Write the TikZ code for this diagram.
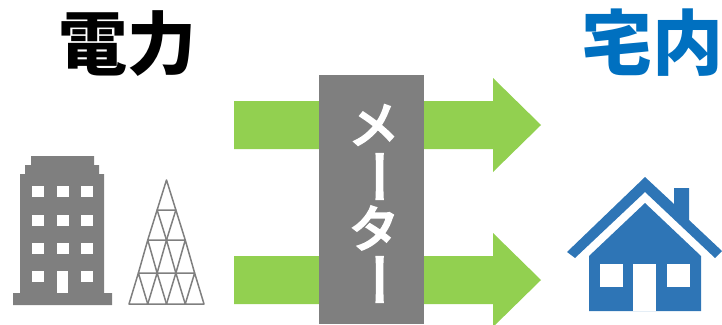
\documentclass[tikz,border=0pt]{standalone}
\usepackage{fontspec}
\usepackage{xcolor}
\setmainfont{Noto Sans CJK JP}
\newfontfamily\meterfont[FakeBold=5]{Noto Sans CJK JP}
\definecolor{flowgreen}{HTML}{92D050}
\definecolor{metergray}{HTML}{7F7F7F}
\definecolor{homeblue}{HTML}{2E75B6}
\definecolor{titleblue}{HTML}{0070C0}
\tikzset{
  title/.style={
    inner sep=0pt, font=\fontsize{69}{72}\selectfont\bfseries
  },
  meterchar/.style={
    inner sep=0pt, text=white, font=\meterfont\fontsize{50}{52}\selectfont
  },
  meterbar/.style={
    meterchar, font=\meterfont\fontsize{56}{58}\selectfont, rotate=90
  },
  flow/.style={fill=flowgreen},
  bldg/.style={fill=metergray},
  pane/.style={fill=white},
  truss/.style={draw=metergray, line width=1.5pt}
}
\begin{document}
\begin{tikzpicture}[x=1pt, y=-1pt]
    \useasboundingbox (0,0) rectangle (722,324);

    % Titulos
    \node[title] (power) at (127,44) {電力};
    \node[title, text=titleblue, font=\fontsize{71}{74}\selectfont\bfseries] (home) at (652,43) {宅内};

    % Flechas
    \foreach \y in {125,280}{%
      \fill[flow] (234,\y-24) -- (493,\y-24) -- (493,\y-47) -- (541,\y)
        -- (493,\y+47) -- (493,\y+24) -- (234,\y+24) -- cycle;}

    % Medidor
    \fill[metergray] (319,75) rectangle (424,324);
    \node[meterchar] (m1) at (374,125) {メ};
    \node[meterbar] (m2) at (389,176.5) {ー};
    \node[meterchar] (m3) at (374,228) {タ};
    \node[meterbar] (m4) at (389,279.5) {ー};

    % Edificio
    \fill[bldg] (13,305) -- (13,293) -- (20,293) -- (20,174) -- (25,174) -- (25,165)
      -- (31,165) -- (31,156) -- (94,156) -- (94,165) -- (99,165) -- (99,174)
      -- (104,174) -- (104,293) -- (112,293) -- (112,305) -- cycle;
    \foreach \x in {32,57,81}{%
      \foreach \y in {186,215,243}{%
        \fill[pane] (\x,\y) rectangle ++(11.5,11);}}
    \fill[pane] (32,271) rectangle ++(11.5,11);
    \fill[pane] (81,271) rectangle ++(11.5,11);
    \fill[pane] (57,271) rectangle (68,293);

    % Torre
    \foreach \r/\ya/\yb in {0/180/210, 1/210/240, 2/240/273, 3/273/304}{%
      \pgfmathtruncatemacro{\n}{\r}
      \foreach \i in {0,...,\n}{%
        \draw[truss, line join=round]
          ({166.5+(\i-\r/2)*18.75},\ya) -- ({166.5+(\i-(\r+1)/2)*18.75},\yb)
          -- ({166.5+(\i+1-(\r+1)/2)*18.75},\yb) -- cycle;}}

    % Casa
    \fill[homeblue] (567,252) -- (645,177) -- (674,204) -- (674,188) -- (689,188)
      -- (689,220) -- (722,251) -- (715,258) -- (645,192) -- (575,258) -- cycle;
    \fill[homeblue] (645,203) -- (701,256) -- (701,311) -- (589,311) -- (589,256) -- cycle;
    \fill[pane] (633,264) rectangle (656,311);
    \fill[pane] (600,264) rectangle (623,287);
    \fill[pane] (667,264) rectangle (690,287);
\end{tikzpicture}
\end{document}
